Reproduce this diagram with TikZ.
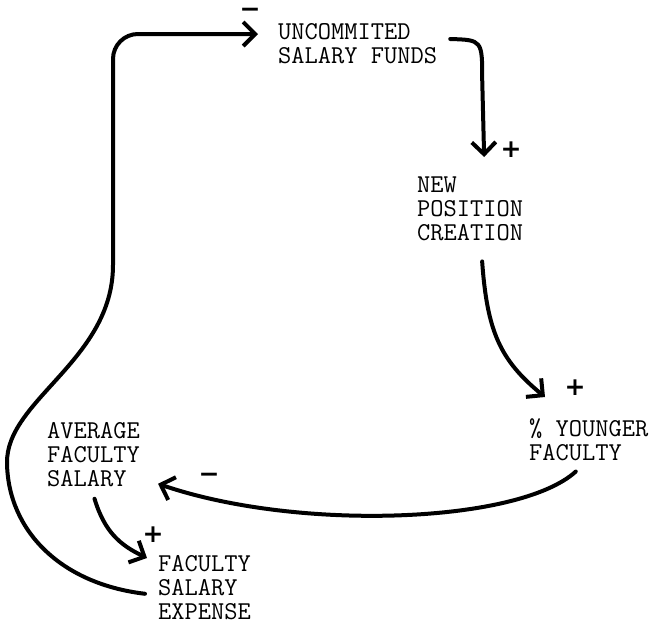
\documentclass[tikz,border=0pt]{standalone}
\usepackage{fontspec}
\newfontfamily\signs{DejaVu Sans}
\usetikzlibrary{arrows.meta}

\begin{document}
\begin{tikzpicture}[
  x = 1pt, y = -1pt,
  var/.style  = {anchor=north west, inner sep=0pt, align=left,
                 font=\ttfamily\fontsize{25.7}{24}\selectfont},
  sign/.style = {inner sep=0pt, font=\signs\bfseries\fontsize{25}{25}\selectfont},
  link/.style = {line width=4pt, line cap=round, line join=round,
                 -{Straight Barb[length=12pt, width=24pt]}}
]
  \useasboundingbox (0,0) rectangle (654,625);

  \node[var] (funds)   at (278,23)  {UNCOMMITED\\SALARY FUNDS};
  \node[var] (newpos)  at (417,177) {NEW\\POSITION\\CREATION};
  \node[var] (younger) at (529,418) {\% YOUNGER\\FACULTY};
  \node[var] (avgsal)  at (47,422)  {AVERAGE\\FACULTY\\SALARY};
  \node[var] (expense) at (158,555) {FACULTY\\SALARY\\EXPENSE};

  % polarity signs
  \node[sign] (s1) at (250,13)  {−};
  \node[sign] (s2) at (511,150) {+};
  \node[sign] (s3) at (575,388) {+};
  \node[sign] (s4) at (209,478) {−};
  \node[sign] (s5) at (153,535) {+};

  \draw[link] ([shift={(13,16)}]funds.north east)
    .. controls +(32,1) .. +(32,41) -- ([shift={(14,-20)}]newpos.north);
  \draw[link] ([shift={(12,20)}]newpos.south)
    .. controls +(5,70) and +(-45,-37) .. ([shift={(16,-21)}]younger.north west);
  \draw[link] ([shift={(-13,11)}]younger.south)
    .. controls +(-57,52) and +(140,48) .. ([shift={(18,-3)}]avgsal.south east);
  \draw[link] ([shift={(1,12)}]avgsal.south)
    .. controls +(10,33) and +(-27,-13) .. ([shift={(-11,3)}]expense.north west);
  \draw[link] ([shift={(-13,-26)}]expense.south west)
    .. controls +(-85,-10) and +(1,67) .. (7,463)
    .. controls +(-1,-63) and +(0,95) .. (113,265)
    [rounded corners=25] -- (113,34) -- ([shift={(-20,11)}]funds.north west);
\end{tikzpicture}
\end{document}
